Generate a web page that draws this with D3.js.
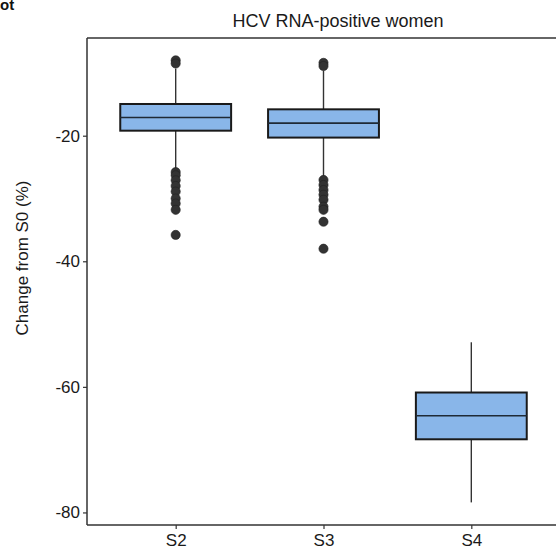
<!DOCTYPE html>
<html>
<head>
<meta charset="utf-8">
<script src="https://cdn.jsdelivr.net/npm/d3@7"></script>
<style>
  html, body { margin: 0; padding: 0; background: #ffffff; }
  svg { display: block; }
  text { font-family: "Liberation Sans", Arial, sans-serif; }
</style>
</head>
<body>
<div id="chart"></div>
<script>
// Percent change from S0 in HCV RNA-positive women, by stage
const categories = ["S2", "S3", "S4"];
const whiskerHigh = [-9.3, -9.6, -52.9];
const q3Values = [-14.95, -15.8, -60.9];
const medians = [-17.1, -18.0, -64.6];
const q1Values = [-19.2, -20.3, -68.35];
const whiskerLow = [-25.2, -26.5, -78.4];
const outliers = [
  [-8.0, -8.5, -25.8, -26.3, -27.1, -28.0, -28.9, -30.0, -30.8, -31.8, -35.8],
  [-8.4, -8.9, -27.05, -27.85, -28.65, -29.4, -30.2, -31.3, -31.8, -33.7, -38.0],
  []
];
const yTicks = [-20, -40, -60, -80];
const panelTitle = "HCV RNA-positive women";
const yTitle = "Change from S0 (%)";

const width = 556, height = 547;
const panel = { left: 87, right: 560, top: 38, bottom: 525 };

const svg = d3.select("#chart").append("svg")
  .attr("width", width).attr("height", height);

const x = d3.scalePoint()
  .domain(categories)
  .range([panel.left, panel.right])
  .padding(0.6);
const boxW = x.step() * 0.75;

const y = d3.scaleLinear()
  .domain([-82.0, -4.44])
  .range([panel.bottom, panel.top]);

const rows = categories.map((c, i) => ({
  cat: c, lo: whiskerLow[i], q1: q1Values[i], med: medians[i],
  q3: q3Values[i], hi: whiskerHigh[i], out: outliers[i]
}));

// whiskers
const g = svg.append("g");
rows.forEach(d => {
  const cx = x(d.cat);
  g.append("line").attr("x1", cx).attr("x2", cx)
    .attr("y1", y(d.q3)).attr("y2", y(d.hi))
    .attr("stroke", "#333333").attr("stroke-width", 1.4);
  g.append("line").attr("x1", cx).attr("x2", cx)
    .attr("y1", y(d.q1)).attr("y2", y(d.lo))
    .attr("stroke", "#333333").attr("stroke-width", 1.4);
});

// boxes and medians
rows.forEach(d => {
  const cx = x(d.cat);
  g.append("rect")
    .attr("x", cx - boxW / 2).attr("width", boxW)
    .attr("y", y(d.q3)).attr("height", y(d.q1) - y(d.q3))
    .attr("fill", "#89b6e9").attr("stroke", "#1a1a1a").attr("stroke-width", 2);
  g.append("line")
    .attr("x1", cx - boxW / 2).attr("x2", cx + boxW / 2)
    .attr("y1", y(d.med)).attr("y2", y(d.med))
    .attr("stroke", "#1f2a36").attr("stroke-width", 1.6);
});

// outlying points
rows.forEach(d => {
  g.selectAll(null).data(d.out).enter().append("circle")
    .attr("cx", x(d.cat)).attr("cy", v => y(v)).attr("r", 4.6)
    .attr("fill", "#333333").attr("stroke", "#222222").attr("stroke-width", 0.6);
});

// axes
const yAxis = d3.axisLeft(y).tickValues(yTicks).tickFormat(v => String(v))
  .tickSize(4).tickPadding(3);
const yg = svg.append("g").attr("transform", `translate(${panel.left},0)`).call(yAxis);
yg.select(".domain").remove();
yg.selectAll(".tick line").attr("stroke", "#333333").attr("stroke-width", 1.2);
yg.selectAll(".tick text").attr("font-size", 17).attr("fill", "#1a1a1a")
  .style("font-family", "'Liberation Sans', Arial, sans-serif");

const xAxis = d3.axisBottom(x).tickSize(4).tickPadding(5);
const xg = svg.append("g").attr("transform", `translate(0,${panel.bottom})`).call(xAxis);
xg.select(".domain").remove();
xg.selectAll(".tick line").attr("stroke", "#333333").attr("stroke-width", 1.2);
xg.selectAll(".tick text").attr("font-size", 17).attr("fill", "#1a1a1a")
  .style("font-family", "'Liberation Sans', Arial, sans-serif");

// panel frame lines: left, bottom, top
svg.append("line").attr("x1", panel.left).attr("x2", panel.left)
  .attr("y1", panel.top).attr("y2", panel.bottom)
  .attr("stroke", "#333333").attr("stroke-width", 1.5);
svg.append("line").attr("x1", panel.left).attr("x2", panel.right)
  .attr("y1", panel.bottom).attr("y2", panel.bottom)
  .attr("stroke", "#333333").attr("stroke-width", 1.5);
svg.append("line").attr("x1", panel.left).attr("x2", panel.right)
  .attr("y1", panel.top).attr("y2", panel.top)
  .attr("stroke", "#333333").attr("stroke-width", 1.5);

// titles
svg.append("text").attr("x", 338).attr("y", 27)
  .attr("text-anchor", "middle").attr("font-size", 18).attr("fill", "#1a1a1a")
  .text(panelTitle);

svg.append("text")
  .attr("transform", "translate(28,258) rotate(-90)")
  .attr("text-anchor", "middle").attr("font-size", 17).attr("fill", "#1a1a1a")
  .text(yTitle);

svg.append("text").attr("x", 0).attr("y", 10)
  .attr("font-size", 15).attr("font-weight", "bold").attr("fill", "#111111")
  .text("ot");
</script>
</body>
</html>
